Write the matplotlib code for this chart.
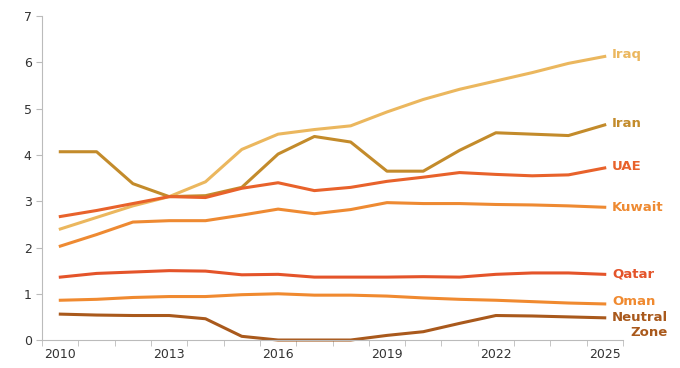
import matplotlib.pyplot as plt
import numpy as np

years = list(range(2010, 2026))

iraq = [2.40, 2.65, 2.90, 3.10, 3.42, 4.12, 4.45, 4.55, 4.63, 4.93, 5.20, 5.42, 5.60, 5.78, 5.98, 6.13]
iran = [4.07, 4.07, 3.38, 3.10, 3.12, 3.30, 4.02, 4.40, 4.28, 3.65, 3.65, 4.10, 4.48, 4.45, 4.42, 4.65]
uae = [2.67, 2.80, 2.95, 3.10, 3.08, 3.28, 3.40, 3.23, 3.30, 3.43, 3.52, 3.62, 3.58, 3.55, 3.57, 3.72]
kuwait = [2.03, 2.28, 2.55, 2.58, 2.58, 2.70, 2.83, 2.73, 2.82, 2.97, 2.95, 2.95, 2.93, 2.92, 2.90, 2.87]
qatar = [1.36, 1.44, 1.47, 1.50, 1.49, 1.41, 1.42, 1.36, 1.36, 1.36, 1.37, 1.36, 1.42, 1.45, 1.45, 1.42]
oman = [0.86, 0.88, 0.92, 0.94, 0.94, 0.98, 1.00, 0.97, 0.97, 0.95, 0.91, 0.88, 0.86, 0.83, 0.80, 0.78]
neutral = [0.56, 0.54, 0.53, 0.53, 0.46, 0.08, 0.00, 0.00, 0.00, 0.10, 0.18, 0.36, 0.53, 0.52, 0.50, 0.48]

names = ["Iraq", "Iran", "UAE", "Kuwait", "Qatar", "Oman", "Neutral\nZone"]
series = [iraq, iran, uae, kuwait, qatar, oman, neutral]
colors = ["#EBB75E", "#C38B2B", "#E8622B", "#EE8A32", "#E4542A", "#F08A30", "#A9591C"]
label_offsets = [0.04, 0.04, 0.04, 0.0, 0.0, 0.06, -0.15]

fig = plt.figure(figsize=(6.8, 3.68), dpi=100)
ax = fig.add_axes([0.062, 0.076, 0.854, 0.88])

x = np.arange(len(years))
for name, vals, c, off in zip(names, series, colors, label_offsets):
    ax.plot(x, vals, color=c, lw=2.2, solid_joinstyle="round", clip_on=False)
    ax.text(x[-1] + 0.2, vals[-1] + off, name, color=c, fontsize=9.5,
            fontweight="bold", va="center", ha="left",
            multialignment="right" if "\n" in name else "left")

ax.set_xlim(-0.5, len(years) - 0.5)
ax.set_ylim(0, 7)
ax.set_yticks(range(0, 8))

# minor ticks at category boundaries, labels every 3 years
ax.set_xticks(np.arange(-0.5, len(years)), minor=True)
ax.set_xticks(x[::3])
ax.set_xticklabels([str(y) for y in years[::3]])
ax.tick_params(axis="x", which="major", length=0, pad=6)
ax.tick_params(axis="x", which="minor", length=4, color="#BBBBBB")
ax.tick_params(axis="y", length=4, color="#BBBBBB")
ax.tick_params(labelsize=9, labelcolor="#333333")

for s in ["top", "right"]:
    ax.spines[s].set_visible(False)
for s in ["left", "bottom"]:
    ax.spines[s].set_color("#BBBBBB")

fig.savefig("out.png", dpi=100)
